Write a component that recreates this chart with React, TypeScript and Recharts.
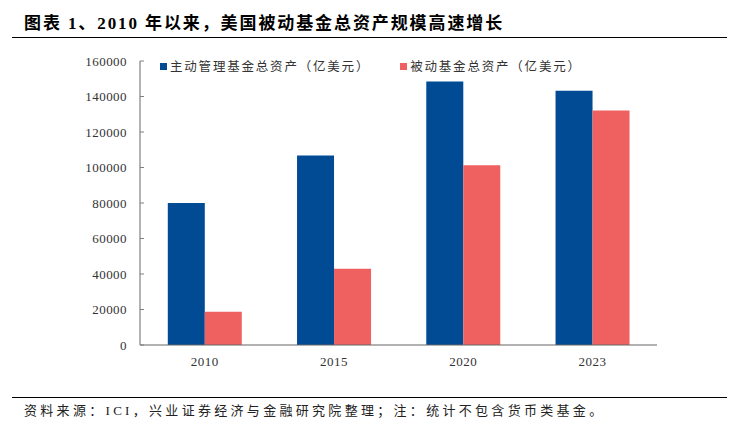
import React from "react";
import { Bar, BarChart, XAxis, YAxis } from "recharts";

const years = ["2010", "2015", "2020", "2023"];
const activeAssets = [80000, 106800, 148500, 143200];
const passiveAssets = [18700, 43000, 101300, 132100];
const yTicks = [0, 20000, 40000, 60000, 80000, 100000, 120000, 140000, 160000];

const TITLE = "图表 1、2010 年以来，美国被动基金总资产规模高速增长";
const SOURCE = "资料来源：ICI，兴业证券经济与金融研究院整理；注：统计不包含货币类基金。";
const ACTIVE_NAME = "主动管理基金总资产（亿美元）";
const PASSIVE_NAME = "被动基金总资产（亿美元）";

const BLUE = "#014b95";
const RED = "#ef6061";
const SERIF = "'Liberation Serif', 'Times New Roman', serif";
const CJK = "'Noto Sans CJK SC', 'Noto Sans', sans-serif";

const data = years.map((year, i) => ({
  year,
  active: activeAssets[i],
  passive: passiveAssets[i],
}));

const legendItems = [
  { name: ACTIVE_NAME, color: BLUE },
  { name: PASSIVE_NAME, color: RED },
];

function ChartLegend() {
  return (
    <div style={{ position: "absolute", left: 160, top: 59, display: "flex", alignItems: "center" }}>
      {legendItems.map((item, i) => (
        <div
          key={item.name}
          style={{ display: "flex", alignItems: "center", marginRight: i === 0 ? 30 : 0 }}
        >
          <span
            style={{
              width: 7,
              height: 7,
              background: item.color,
              display: "inline-block",
              marginRight: 3,
            }}
          />
          <span
            style={{
              fontFamily: CJK,
              fontSize: 12.5,
              letterSpacing: 1.8,
              color: "#333",
              lineHeight: "14px",
            }}
          >
            {item.name}
          </span>
        </div>
      ))}
    </div>
  );
}

export default function App() {
  return (
    <div
      style={{
        position: "absolute",
        left: 0,
        top: 0,
        width: 751,
        height: 424,
        background: "#fff",
        overflow: "hidden",
      }}
    >
      <div
        style={{
          position: "absolute",
          left: 24,
          top: 14,
          fontFamily: `'Liberation Serif', ${CJK}`,
          fontWeight: "bold",
          fontSize: 17,
          letterSpacing: 1.9,
          lineHeight: "20px",
          color: "#000",
          whiteSpace: "nowrap",
        }}
      >
        {TITLE}
      </div>
      <div
        style={{
          position: "absolute",
          left: 12,
          top: 37,
          width: 715,
          borderTop: "1.5px solid #000",
        }}
      />

      <div style={{ position: "absolute", left: 0, top: 0 }}>
        <BarChart
          width={751}
          height={424}
          data={data}
          margin={{ top: 61, right: 94, bottom: 49, left: 0 }}
          barCategoryGap="21.5%"
          barGap={0}
        >
          <XAxis
            dataKey="year"
            height={30}
            axisLine={{ stroke: "#666", strokeWidth: 1.2 }}
            tickLine={false}
            tickSize={0}
            tickMargin={12}
            tick={{ fontFamily: SERIF, fontSize: 13, fill: "#333", letterSpacing: 0.5 }}
          />
          <YAxis
            width={140}
            domain={[0, 160000]}
            ticks={yTicks}
            interval={0}
            axisLine={{ stroke: "#808080", strokeWidth: 1.2 }}
            tickLine={{ stroke: "#808080" }}
            tickSize={-4}
            tickMargin={17}
            tick={{ fontFamily: SERIF, fontSize: 13, fill: "#333", letterSpacing: 0.45 }}
          />
          <Bar dataKey="active" name={ACTIVE_NAME} fill={BLUE} isAnimationActive={false} />
          <Bar dataKey="passive" name={PASSIVE_NAME} fill={RED} isAnimationActive={false} />
        </BarChart>
      </div>
      <ChartLegend />

      <div
        style={{
          position: "absolute",
          left: 12,
          top: 397,
          width: 715,
          borderTop: "1px solid #000",
        }}
      />
      <div
        style={{
          position: "absolute",
          left: 24,
          top: 403,
          fontFamily: `'Liberation Serif', ${CJK}`,
          fontSize: 13,
          letterSpacing: 3.3,
          lineHeight: "16px",
          color: "#222",
          whiteSpace: "nowrap",
        }}
      >
        {SOURCE}
      </div>
    </div>
  );
}
